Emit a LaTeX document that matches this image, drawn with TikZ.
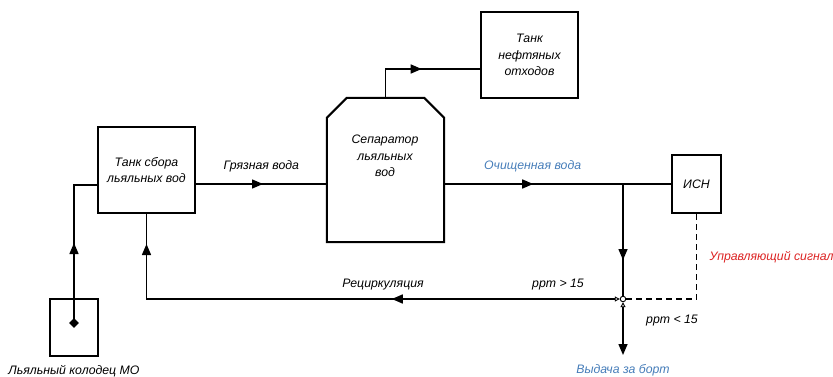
\documentclass[tikz,border=0pt]{standalone}
\usepackage{fontspec}
\setmainfont{Liberation Sans}
\usetikzlibrary{arrows.meta,positioning,calc,decorations.markings,shapes.geometric}

\definecolor{flowblue}{RGB}{70,125,185}
\definecolor{sigred}{RGB}{220,35,35}

\begin{document}
\begin{tikzpicture}[
  x=1pt, y=-1pt,
  font=\fontsize{12.3}{16.5}\selectfont\itshape,
  >={Triangle[length=11pt, width=9pt]},
  valve/.tip={Triangle[open, length=5pt, width=5pt, line width=0.9pt]},
  unit/.style={
    draw, rectangle, line width=2pt,
    inner sep=0pt, align=center
  },
  lnk/.style={line width=1.5pt},
  midtip/.style={postaction={decorate,
    decoration={markings, mark=at position #1 with {\arrow{>}}}}},
]
\useasboundingbox (0,0) rectangle (833,377);

\node[unit, minimum width=97pt, minimum height=86pt] (tankA) at (146.5,170)
  {Танк сбора\\льяльных вод};

\node[unit, line width=1.5pt, minimum width=48pt, minimum height=57pt] (well) at (74,327.5) {};
\node[diamond, fill, inner sep=0pt, minimum size=10pt] (drain) at (74,323) {};
\node[below=5pt of well] (wellTxt) {Льяльный колодец МО};

%% separator with chamfered top
\node[rectangle, minimum width=117pt, minimum height=144pt] (sep) at (385.5,170) {};
\draw[line width=2pt]
  ([xshift=20pt]sep.north west) -- ([xshift=-20pt]sep.north east)
  -- ([yshift=-20pt]sep.north east) -- (sep.south east)
  -- (sep.south west) -- ([yshift=-20pt]sep.north west) -- cycle;
\node[align=center] (sepTxt) at (385,156) {Сепаратор\\льяльных\\вод};

\node[unit, minimum width=97pt, minimum height=86pt] (oil) at (529.5,55)
  {Танк\\нефтяных\\отходов};

\node[unit, minimum width=49pt, minimum height=58pt] (isn) at (696.5,184) {ИСН};

\node[circle, draw, fill=white, line width=0.9pt, inner sep=0pt,
  minimum size=5.5pt] (j) at (623,299) {};

\coordinate (inA) at ([yshift=-15pt]tankA.west);
\coordinate (inOil) at ([yshift=-14pt]oil.west);
\coordinate (br) at (j |- isn.west);
\coordinate (out) at (623,355);

%% bilge well -> collecting tank
\draw[lnk, midtip=80pt] (drain.center) -- (drain |- inA) -- (inA);

%% dirty water
\draw[lnk, midtip=67pt] ([yshift=-14pt]tankA.east)
  -- node[above=8pt] {Грязная вода}
  ([yshift=-14pt]sep.west);

%% oil waste
\draw[lnk, midtip=65pt] (sep.north) -- (sep.north |- inOil) -- (inOil);

%% clean water
\draw[lnk, midtip=89pt] ([yshift=-14pt]sep.east)
  -- node[pos=0.39, above=8pt, text=flowblue] {Очищенная вода}
  (isn.west);
\draw[lnk, midtip=76pt] (br) -- (j.north);

%% recirculation
\draw[lnk, {valve}-, midtip=228pt, midtip=-30pt] (j.west)
  -- (tankA.south |- j) -- (tankA.south);
\node at (383,285) {Рециркуляция};

%% overboard
\draw[lnk, {valve}->] (j.south) -- (out);
\node[below=6pt of out, text=flowblue] (outTxt) {Выдача за борт};

%% control signal
\draw[line width=1.3pt, dash pattern=on 6pt off 4pt] (isn.south) -- (isn.south |- j) -- (j.east);
\node[anchor=west, text=sigred] (sigTxt) at (706,257) {Управляющий сигнал};

\node (hiTxt) at (558,285) {ppm > 15};
\node (loTxt) at (672,321) {ppm < 15};
\end{tikzpicture}
\end{document}
